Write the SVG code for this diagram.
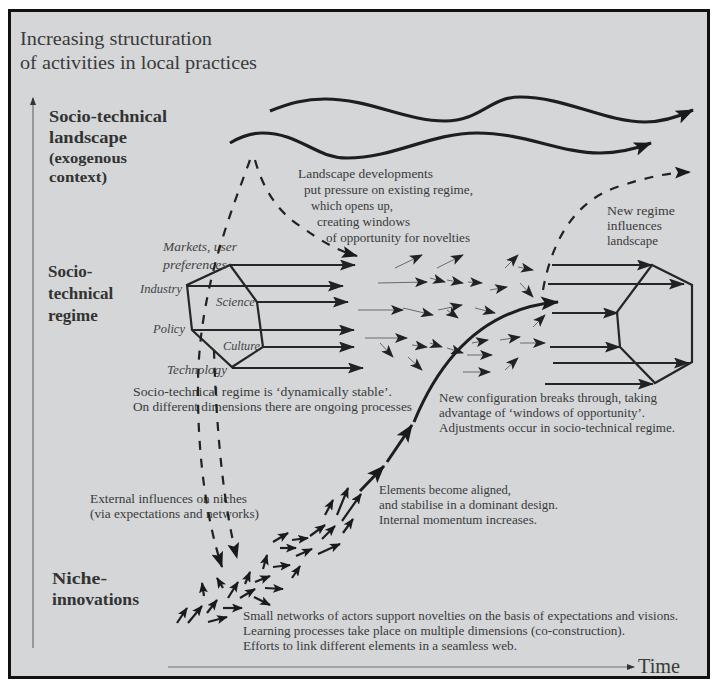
<svg xmlns="http://www.w3.org/2000/svg" width="713" height="681" viewBox="0 0 713 681">
<defs>
<style>
.t{font-family:"Liberation Serif","Times New Roman",serif;fill:#3a3a3a}
.d{font-size:13.5px}
.b{font-weight:bold;fill:#333}
.i{font-style:italic;font-size:13px;fill:#444}
.ray{stroke:#262626;stroke-width:1.8;fill:none;marker-end:url(#hb)}
.sc{stroke:#6a6a6a;stroke-width:1;fill:none;marker-end:url(#hs)}
.ni{stroke:#1e1e1e;stroke-width:2.2;fill:none;marker-end:url(#hn)}
.dash{stroke:#222;stroke-width:2.2;fill:none;stroke-dasharray:9 9}
.wave{stroke:#1e1e1e;stroke-width:3.2;fill:none;marker-end:url(#hw)}
.big{stroke:#1e1e1e;stroke-width:3;fill:none;marker-end:url(#hg)}
.hex{stroke:#262626;stroke-width:2.2;fill:none;stroke-linejoin:miter}
.ax{stroke:#707070;stroke-width:1.2;fill:none}
</style>
<marker id="hb" markerUnits="userSpaceOnUse" markerWidth="16" markerHeight="11" refX="15" refY="5.5" orient="auto"><path d="M0,0 L16,5.5 L0,11 L3,5.5 z" fill="#222"/></marker>
<marker id="hs" markerUnits="userSpaceOnUse" markerWidth="13" markerHeight="10" refX="12" refY="5" orient="auto"><path d="M0,0 L13,5 L0,10 L3,5 z" fill="#222"/></marker>
<marker id="hn" markerUnits="userSpaceOnUse" markerWidth="11" markerHeight="9" refX="10" refY="4.5" orient="auto"><path d="M0,0 L11,4.5 L0,9 L2.5,4.5 z" fill="#1a1a1a"/></marker>
<marker id="hw" markerUnits="userSpaceOnUse" markerWidth="18" markerHeight="14" refX="17" refY="7" orient="auto"><path d="M0,0 L18,7 L0,14 L4,7 z" fill="#1a1a1a"/></marker>
<marker id="hg" markerUnits="userSpaceOnUse" markerWidth="18" markerHeight="14" refX="17" refY="7" orient="auto"><path d="M0,0 L18,7 L0,14 L4,7 z" fill="#1a1a1a"/></marker>
<marker id="hd" markerUnits="userSpaceOnUse" markerWidth="16" markerHeight="12" refX="15" refY="6" orient="auto"><path d="M0,0 L16,6 L0,12 L3,6 z" fill="#1a1a1a"/></marker>
<marker id="hax" markerUnits="userSpaceOnUse" markerWidth="8" markerHeight="6" refX="7" refY="3" orient="auto"><path d="M0,0 L8,3 L0,6 z" fill="#333"/></marker>
</defs>
<rect x="0" y="0" width="713" height="681" fill="#ffffff"/>
<rect x="9.5" y="10.5" width="699" height="667" fill="#d4d6d8" stroke="#111" stroke-width="3"/>

<g id="title">
<text class="t" x="20" y="45" font-size="19" fill="#555" textLength="192" lengthAdjust="spacingAndGlyphs">Increasing structuration</text>
<text class="t" x="20" y="69" font-size="19" fill="#555" textLength="237" lengthAdjust="spacingAndGlyphs">of activities in local practices</text>
</g>

<g id="axes">
<line class="ax" x1="33" y1="648" x2="33" y2="98" marker-end="url(#hax)"/>
<line class="ax" x1="168" y1="667" x2="634" y2="667" marker-end="url(#hax)"/>
<text class="t" x="638" y="673" font-size="20" fill="#333" textLength="42" lengthAdjust="spacingAndGlyphs">Time</text>
</g>

<g id="landscape-label">
<text class="t b" x="49" y="122" font-size="17" textLength="118" lengthAdjust="spacingAndGlyphs">Socio-technical</text>
<text class="t b" x="49" y="143" font-size="17" textLength="78" lengthAdjust="spacingAndGlyphs">landscape</text>
<text class="t b" x="49" y="163" font-size="15" textLength="78" lengthAdjust="spacingAndGlyphs">(exogenous</text>
<text class="t b" x="49" y="182" font-size="15" textLength="58" lengthAdjust="spacingAndGlyphs">context)</text>
</g>

<g id="regime-label">
<text class="t b" x="48" y="277" font-size="17">Socio-</text>
<text class="t b" x="48" y="299" font-size="17">technical</text>
<text class="t b" x="48" y="321" font-size="17">regime</text>
</g>

<g id="niche-label">
<text class="t b" x="52" y="584" font-size="17" textLength="55" lengthAdjust="spacingAndGlyphs">Niche-</text>
<text class="t b" x="52" y="605" font-size="17" textLength="87" lengthAdjust="spacingAndGlyphs">innovations</text>
</g>

<g id="landscape-waves">
<path class="wave" d="M270,111 C290,103 305,99 325,99 C370,99 405,121 445,121 C480,121 490,97 520,97 C565,97 605,122 645,122 C665,122 680,116 693,110"/>
<path class="wave" d="M230,143 C240,137 250,133 262,133 C300,133 315,158 347,158 C395,158 430,133 477,133 C525,133 560,153 600,153 C620,153 635,149 651,143"/>
</g>

<g id="landscape-text">
<text class="t d" x="298" y="178" textLength="135" lengthAdjust="spacingAndGlyphs">Landscape  developments</text>
<text class="t d" x="304" y="194" textLength="169" lengthAdjust="spacingAndGlyphs">put pressure on existing regime,</text>
<text class="t d" x="311" y="210" textLength="82" lengthAdjust="spacingAndGlyphs">which opens up,</text>
<text class="t d" x="317" y="226" textLength="93" lengthAdjust="spacingAndGlyphs">creating windows</text>
<text class="t d" x="326" y="242" textLength="144" lengthAdjust="spacingAndGlyphs">of opportunity for novelties</text>
</g>

<g id="new-regime-text">
<text class="t d" x="607" y="215" textLength="68" lengthAdjust="spacingAndGlyphs">New  regime</text>
<text class="t d" x="607" y="230" textLength="55" lengthAdjust="spacingAndGlyphs">influences</text>
<text class="t d" x="607" y="245" textLength="51" lengthAdjust="spacingAndGlyphs">landscape</text>
</g>

<g id="regime-left">
<path class="hex" d="M230,265 L257,302 L263,347 L232,367 L192,330 L187,285 Z"/>
<text class="t i" x="163" y="251" textLength="74" lengthAdjust="spacingAndGlyphs">Markets, user</text>
<text class="t i" x="163" y="269" textLength="64" lengthAdjust="spacingAndGlyphs">preferences</text>
<text class="t i" x="140" y="293" textLength="42" lengthAdjust="spacingAndGlyphs">Industry</text>
<text class="t i" x="216" y="306" textLength="39" lengthAdjust="spacingAndGlyphs">Science</text>
<text class="t i" x="153" y="333" textLength="32" lengthAdjust="spacingAndGlyphs">Policy</text>
<text class="t i" x="223" y="350" textLength="37" lengthAdjust="spacingAndGlyphs">Culture</text>
<text class="t i" x="167" y="374" textLength="60" lengthAdjust="spacingAndGlyphs">Technology</text>
</g>

<g id="regime-right">
<path class="hex" d="M652,265 L692,285 L692,362 L655,383 L620,347 L617,312 Z"/>
</g>

<g id="regime-text">
<text class="t d" x="133" y="396" textLength="259" lengthAdjust="spacingAndGlyphs">Socio-technical regime  is ‘dynamically stable’.</text>
<text class="t d" x="133" y="411" textLength="279" lengthAdjust="spacingAndGlyphs">On different dimensions there are ongoing processes</text>
</g>

<g id="breakthrough-text">
<text class="t d" x="439" y="402" textLength="218" lengthAdjust="spacingAndGlyphs">New configuration breaks through, taking</text>
<text class="t d" x="439" y="417" textLength="206" lengthAdjust="spacingAndGlyphs">advantage of ‘windows of opportunity’.</text>
<text class="t d" x="439" y="432" textLength="236" lengthAdjust="spacingAndGlyphs">Adjustments occur in socio-technical regime.</text>
</g>

<g id="external-text">
<text class="t d" x="90" y="503" textLength="157" lengthAdjust="spacingAndGlyphs">External influences on niches</text>
<text class="t d" x="90" y="518" textLength="169" lengthAdjust="spacingAndGlyphs">(via expectations and networks)</text>
</g>

<g id="aligned-text">
<text class="t d" x="379" y="494" textLength="132" lengthAdjust="spacingAndGlyphs">Elements become aligned,</text>
<text class="t d" x="379" y="509" textLength="179" lengthAdjust="spacingAndGlyphs">and stabilise in a dominant design.</text>
<text class="t d" x="379" y="524" textLength="158" lengthAdjust="spacingAndGlyphs">Internal momentum increases.</text>
</g>

<g id="niche-text">
<text class="t d" x="243" y="620" textLength="435" lengthAdjust="spacingAndGlyphs">Small networks of actors support novelties on the basis of expectations and visions.</text>
<text class="t d" x="243" y="635" textLength="382" lengthAdjust="spacingAndGlyphs">Learning processes take place on multiple dimensions (co-construction).</text>
<text class="t d" x="243" y="650" textLength="274" lengthAdjust="spacingAndGlyphs">Efforts to link different elements in a seamless web.</text>
</g>

<g id="connectors">
<line class="ray" x1="230" y1="265" x2="355" y2="265"/>
<line class="ray" x1="187" y1="286" x2="343" y2="286"/>
<line class="ray" x1="257" y1="302" x2="348" y2="302"/>
<line class="ray" x1="192" y1="330" x2="354" y2="330"/>
<line class="ray" x1="263" y1="347" x2="354" y2="347"/>
<line class="ray" x1="232" y1="368" x2="363" y2="368"/>
<line class="ray" x1="552" y1="265" x2="652" y2="265"/>
<line class="ray" x1="548" y1="284" x2="684" y2="284"/>
<line class="ray" x1="552" y1="313" x2="618" y2="313"/>
<line class="ray" x1="550" y1="347" x2="620" y2="347"/>
<line class="ray" x1="553" y1="363" x2="689" y2="363"/>
<line class="ray" x1="545" y1="384" x2="653" y2="384"/>
<line class="sc" x1="395" y1="268" x2="422" y2="255"/>
<line class="sc" x1="437" y1="268" x2="463" y2="255"/>
<line class="sc" x1="505" y1="268" x2="518" y2="255"/>
<line class="sc" x1="518" y1="267" x2="533" y2="270"/>
<line class="sc" x1="378" y1="283" x2="427" y2="282"/>
<line class="sc" x1="430" y1="278" x2="445" y2="282"/>
<line class="sc" x1="447" y1="280" x2="463" y2="283"/>
<line class="sc" x1="468" y1="282" x2="482" y2="283"/>
<line class="sc" x1="490" y1="290" x2="507" y2="287"/>
<line class="sc" x1="520" y1="283" x2="533" y2="297"/>
<line class="sc" x1="358" y1="310" x2="403" y2="310"/>
<line class="sc" x1="403" y1="308" x2="433" y2="315"/>
<line class="sc" x1="438" y1="310" x2="462" y2="305"/>
<line class="sc" x1="447" y1="310" x2="458" y2="318"/>
<line class="sc" x1="475" y1="308" x2="495" y2="313"/>
<line class="sc" x1="533" y1="327" x2="545" y2="315"/>
<line class="sc" x1="365" y1="338" x2="407" y2="338"/>
<line class="sc" x1="380" y1="343" x2="393" y2="357"/>
<line class="sc" x1="412" y1="345" x2="427" y2="347"/>
<line class="sc" x1="430" y1="343" x2="442" y2="347"/>
<line class="sc" x1="447" y1="348" x2="463" y2="353"/>
<line class="sc" x1="472" y1="343" x2="488" y2="340"/>
<line class="sc" x1="500" y1="340" x2="520" y2="337"/>
<line class="sc" x1="520" y1="343" x2="545" y2="343"/>
<line class="sc" x1="408" y1="357" x2="422" y2="370"/>
<line class="sc" x1="467" y1="355" x2="492" y2="355"/>
<line class="sc" x1="463" y1="372" x2="490" y2="372"/>
<line class="sc" x1="505" y1="370" x2="518" y2="358"/>
<line class="ni" x1="177" y1="623" x2="187" y2="608"/>
<line class="ni" x1="188" y1="623" x2="202" y2="606"/>
<line class="ni" x1="207" y1="613" x2="217" y2="600"/>
<line class="ni" x1="208" y1="622" x2="227" y2="617"/>
<line class="ni" x1="223" y1="608" x2="242" y2="608"/>
<line class="ni" x1="204" y1="596" x2="202" y2="583"/>
<line class="ni" x1="223" y1="588" x2="217" y2="578"/>
<line class="ni" x1="228" y1="598" x2="238" y2="582"/>
<line class="ni" x1="245" y1="584" x2="250" y2="572"/>
<line class="ni" x1="240" y1="598" x2="255" y2="589"/>
<line class="ni" x1="254" y1="597" x2="270" y2="605"/>
<line class="ni" x1="255" y1="582" x2="270" y2="576"/>
<line class="ni" x1="265" y1="588" x2="283" y2="589"/>
<line class="ni" x1="263" y1="569" x2="267" y2="555"/>
<line class="ni" x1="273" y1="567" x2="290" y2="565"/>
<line class="ni" x1="292" y1="578" x2="300" y2="566"/>
<line class="ni" x1="273" y1="542" x2="288" y2="533"/>
<line class="ni" x1="280" y1="548" x2="296" y2="548"/>
<line class="ni" x1="292" y1="540" x2="308" y2="538"/>
<line class="ni" x1="296" y1="556" x2="312" y2="549"/>
<line class="ni" x1="310" y1="536" x2="325" y2="525"/>
<line class="ni" x1="322" y1="539" x2="335" y2="526"/>
<line class="ni" x1="318" y1="554" x2="340" y2="544"/>
<line class="ni" x1="343" y1="533" x2="353" y2="519"/>
<line class="ni" x1="325" y1="515" x2="333" y2="500"/>
<line class="ni" x1="337" y1="515" x2="348" y2="488"/>
<line class="ni" x1="342" y1="521" x2="361" y2="494"/>
<line class="big" x1="360" y1="491" x2="384" y2="466"/>
<line class="big" x1="387" y1="462" x2="412" y2="425"/>
<path class="big" d="M414,422 Q460,310 558,302"/>
<path class="dash" d="M255,160 C262,185 275,210 300,226 C320,240 335,250 357,256" marker-end="url(#hd)"/>
<path class="dash" d="M250,160 C228,220 200,290 198,380 C197,460 208,525 222,567" marker-end="url(#hd)"/>
<path class="dash" d="M214,350 C216,420 222,500 237,558" marker-end="url(#hd)"/>
<path class="dash" d="M543,290 C552,240 575,200 620,186 C645,178 665,173 690,172" marker-end="url(#hd)"/>
</g>
</svg>
